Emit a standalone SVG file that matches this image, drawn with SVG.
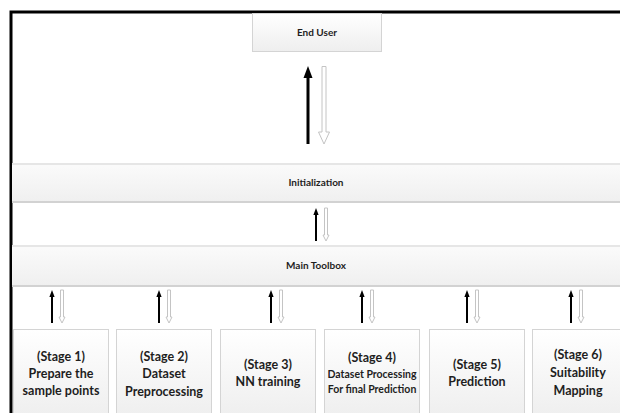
<svg xmlns="http://www.w3.org/2000/svg" xmlns:xlink="http://www.w3.org/1999/xlink" width="620" height="413" viewBox="0 0 620 413">
<style>
text{font-family:Lato,"Liberation Sans",Arial,sans-serif;font-weight:bold;fill:#1e1e1e;text-anchor:middle}
.t{font-size:12.5px}
.s{font-size:10.5px}
.h{font-size:10px}
.box{fill:url(#g);stroke:#d4d4d4;stroke-width:1}
.band{fill:url(#gb)}
.edgeT{stroke:#e6e6e6;stroke-width:2}
.edgeB{stroke:#d2d2d2;stroke-width:2}
.blk{fill:#000}
.hol{fill:#fff;stroke:#c4c4c4;stroke-width:1}
</style>
<defs>
<linearGradient id="g" x1="0" y1="0" x2="0" y2="1"><stop offset="0" stop-color="#ffffff"/><stop offset="1" stop-color="#eeeeee"/></linearGradient>
<linearGradient id="gb" x1="0" y1="0" x2="0" y2="1"><stop offset="0" stop-color="#fbfbfb"/><stop offset="1" stop-color="#efefef"/></linearGradient>
<g id="pair">
<rect class="blk" x="-1" y="5" width="2" height="28"/>
<polygon class="blk" points="0,0 -2.6,7 2.6,7"/>
<polygon class="hol" points="8.5,0 11.5,0 11.5,27 13,27 10,33 7,27 8.5,27"/>
</g>
</defs>
<rect width="620" height="413" fill="#fff"/>
<path d="M11,413 V12 H620" fill="none" stroke="#000" stroke-width="3"/>

<g id="enduser">
<rect class="box" x="252.5" y="13.5" width="129" height="38"/>
<text class="h" x="317" y="36">End User</text>
</g>

<g id="initialization">
<rect class="band" x="12" y="163" width="608" height="40"/>
<line class="edgeT" x1="12" y1="164" x2="620" y2="164"/>
<line class="edgeB" x1="12" y1="202" x2="620" y2="202"/>
<text class="h" x="316" y="186">Initialization</text>
</g>

<g id="maintoolbox">
<rect class="band" x="12" y="245" width="608" height="42"/>
<line class="edgeT" x1="12" y1="246" x2="620" y2="246"/>
<line class="edgeB" x1="12" y1="286" x2="620" y2="286"/>
<text class="h" x="316" y="269">Main Toolbox</text>
</g>

<g id="stage1">
<rect class="box" x="13.5" y="329.5" width="95" height="90"/>
<text class="t" x="61" y="361">(Stage 1)</text>
<text class="t" x="61" y="378">Prepare the</text>
<text class="t" x="61" y="395">sample points</text>
</g>
<g id="stage2">
<rect class="box" x="116.5" y="329.5" width="95" height="90"/>
<text class="t" x="164" y="361">(Stage 2)</text>
<text class="t" x="164" y="378">Dataset</text>
<text class="t" x="164" y="396">Preprocessing</text>
</g>
<g id="stage3">
<rect class="box" x="220.5" y="329.5" width="95" height="90"/>
<text class="t" x="268" y="369">(Stage 3)</text>
<text class="t" x="268" y="386">NN training</text>
</g>
<g id="stage4">
<rect class="box" x="324.5" y="329.5" width="95" height="90"/>
<text class="t" x="372" y="362">(Stage 4)</text>
<text class="s" x="372" y="378">Dataset Processing</text>
<text class="s" x="372" y="393">For final Prediction</text>
</g>
<g id="stage5">
<rect class="box" x="429.5" y="329.5" width="95" height="90"/>
<text class="t" x="477" y="369">(Stage 5)</text>
<text class="t" x="477" y="386">Prediction</text>
</g>
<g id="stage6">
<rect class="box" x="532.5" y="329.5" width="95" height="90"/>
<text class="t" x="578" y="359">(Stage 6)</text>
<text class="t" x="578" y="377">Suitability</text>
<text class="t" x="578" y="395">Mapping</text>
</g>

<g id="connectors">
<rect class="blk" x="306.5" y="74" width="3" height="70"/>
<polygon class="blk" points="308,66 303.5,78 312.5,78"/>
<polygon class="hol" points="322,66.5 326,66.5 326,132 329.5,132 324,144 318.5,132 322,132"/>
<use xlink:href="#pair" x="316" y="208"/>
<use xlink:href="#pair" x="52" y="290"/>
<use xlink:href="#pair" x="159" y="290"/>
<use xlink:href="#pair" x="271" y="290"/>
<use xlink:href="#pair" x="362" y="290"/>
<use xlink:href="#pair" x="467" y="290"/>
<use xlink:href="#pair" x="571" y="290"/>
</g>
</svg>
